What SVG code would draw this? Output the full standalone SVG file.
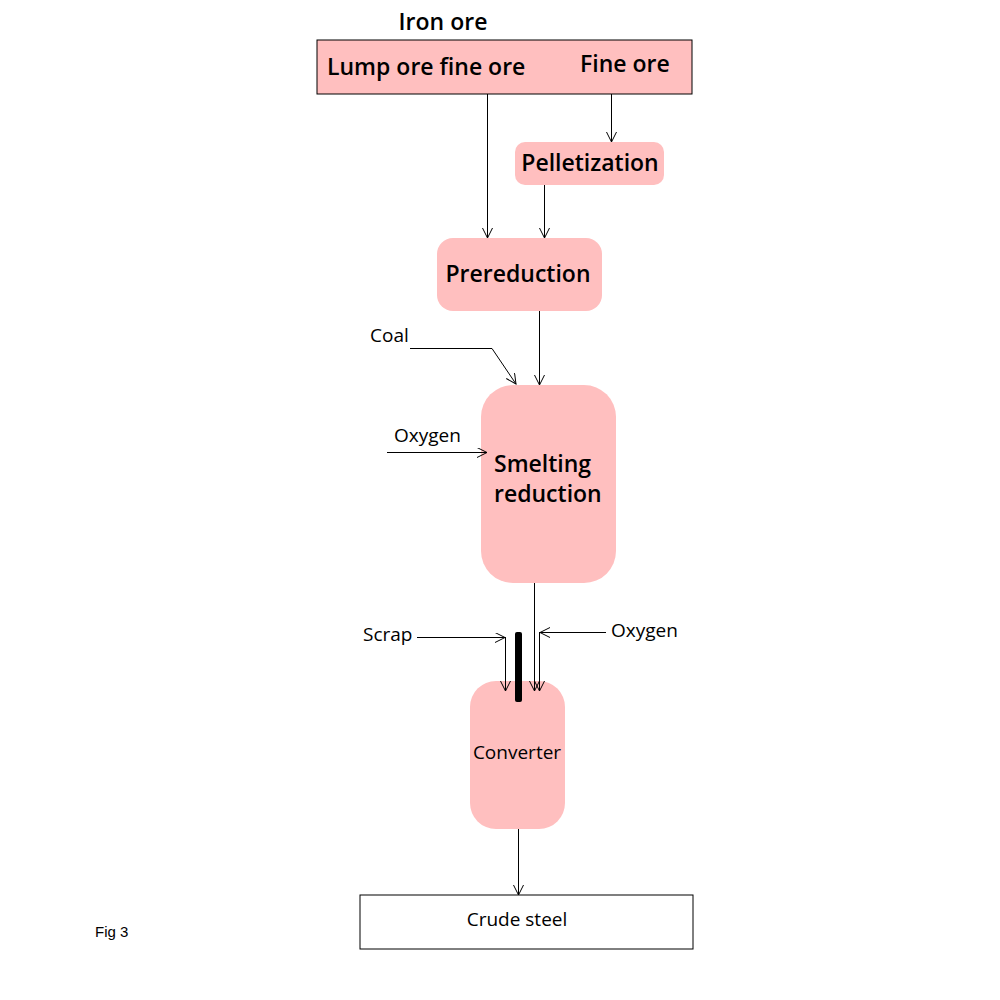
<svg xmlns="http://www.w3.org/2000/svg" width="1000" height="1000" viewBox="0 0 1000 1000">
<style>
.t{font-family:"Open Sans","Noto Sans",sans-serif;fill:#000}
.b{font-size:23px;font-weight:600}
.s{font-size:19px;font-weight:500}
.node{fill:#FFBFBF}
.c{fill:none;stroke:#000;stroke-width:1}
</style>
<defs>
<marker id="ah" markerWidth="12" markerHeight="12" refX="10" refY="5" orient="auto" markerUnits="userSpaceOnUse">
<path d="M0,0 L10,5 L0,10" fill="none" stroke="#000" stroke-width="1"/>
</marker>
</defs>
<rect width="1000" height="1000" fill="#fff"/>
<text class="t b" x="443" y="30" text-anchor="middle">Iron ore</text>
<g id="iron-ore">
<rect class="node" x="317" y="40" width="375" height="54" stroke="#000" stroke-width="1"/>
<text class="t b" x="327" y="75">Lump ore fine ore</text>
<text class="t b" x="580" y="72">Fine ore</text>
</g>
<g id="pelletization">
<rect class="node" x="515" y="142" width="149" height="43" rx="10"/>
<text class="t b" x="590" y="171" text-anchor="middle">Pelletization</text>
</g>
<g id="prereduction">
<rect class="node" x="437" y="238" width="165" height="73" rx="16"/>
<text class="t b" x="518" y="282" text-anchor="middle">Prereduction</text>
</g>
<g id="smelting">
<rect class="node" x="481" y="385" width="135" height="198" rx="32"/>
<text class="t b" x="494" y="472">Smelting</text>
<text class="t b" x="494" y="502">reduction</text>
</g>
<g id="converter">
<rect class="node" x="470" y="681" width="95" height="148" rx="26"/>
<text class="t s" x="517" y="759" text-anchor="middle">Converter</text>
</g>
<g id="crude-steel">
<rect x="360" y="895" width="333" height="54" fill="#fff" stroke="#000" stroke-width="1"/>
<text class="t s" x="517" y="926" text-anchor="middle">Crude steel</text>
</g>
<g id="labels">
<text class="t s" x="370" y="342">Coal</text>
<text class="t s" x="394" y="442">Oxygen</text>
<text class="t s" x="363" y="641">Scrap</text>
<text class="t s" x="611" y="637">Oxygen</text>
<text x="95" y="937" font-family="Liberation Sans,Arial,sans-serif" font-size="15">Fig 3</text>
</g>
<g id="connectors">
<line class="c" x1="487.5" y1="94" x2="487.5" y2="238" marker-end="url(#ah)"/>
<line class="c" x1="611.5" y1="94" x2="611.5" y2="142" marker-end="url(#ah)"/>
<line class="c" x1="544.5" y1="185" x2="544.5" y2="238" marker-end="url(#ah)"/>
<line class="c" x1="539.5" y1="311" x2="539.5" y2="385" marker-end="url(#ah)"/>
<polyline class="c" points="410,348.5 492,348.5 516,384" marker-end="url(#ah)"/>
<line class="c" x1="387" y1="452.5" x2="487" y2="452.5" marker-end="url(#ah)"/>
<line class="c" x1="534.5" y1="583" x2="534.5" y2="691" marker-end="url(#ah)"/>
<line class="c" x1="417" y1="637.5" x2="505" y2="637.5" marker-end="url(#ah)"/>
<line class="c" x1="505.5" y1="637" x2="505.5" y2="691" marker-end="url(#ah)"/>
<line class="c" x1="606" y1="632.5" x2="540" y2="632.5" marker-end="url(#ah)"/>
<line class="c" x1="539.5" y1="632" x2="539.5" y2="691" marker-end="url(#ah)"/>
<rect x="515" y="632" width="7" height="70" rx="2" fill="#000"/>
<line class="c" x1="518.5" y1="829" x2="518.5" y2="895" marker-end="url(#ah)"/>
</g>
</svg>
